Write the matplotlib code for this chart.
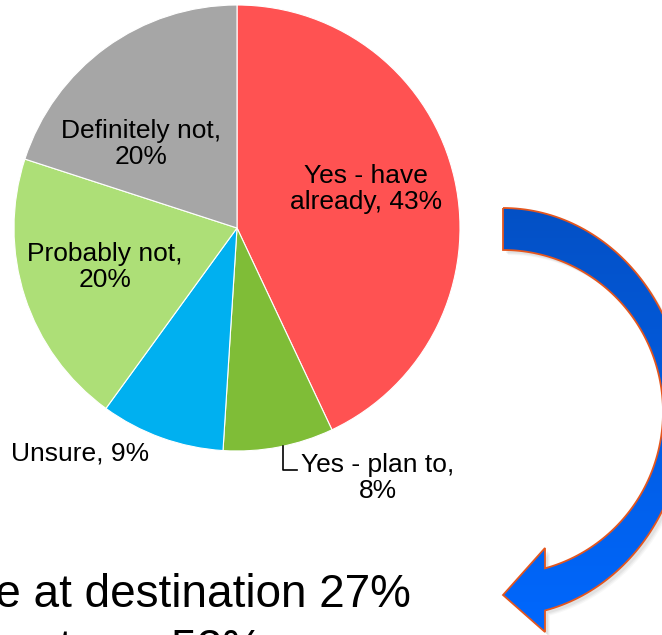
import numpy as np
import matplotlib
matplotlib.use('Agg')
import matplotlib.pyplot as plt
from matplotlib.patches import Polygon
from matplotlib.colors import LinearSegmentedColormap

# pie data
categories = ['Yes - have\nalready, 43%', 'Yes - plan to,\n8%', 'Unsure, 9%',
              'Probably not,\n20%', 'Definitely not,\n20%']
values = [43, 8, 9, 20, 20]
colors = ['#FF5252', '#7FBD37', '#00B0F0', '#ADDF77', '#A6A6A6']

# text below the arrow (only partly on the canvas)
bottom_lines = ['Purchase at destination 27%', 'Purchase at sea 52%']

W, H = 662, 635
CX, CY, R = 237, 228, 223   # pie centre / radius in pixels


def P(px, py):
    # pixel position -> data coords of the pie axes
    return (px - CX) / R, (CY - py) / R


fig = plt.figure(figsize=(W / 100, H / 100), dpi=100)
ax = fig.add_axes([0, 0, 1, 1])

ax.pie(values, colors=colors, startangle=90, counterclock=False, radius=1,
       wedgeprops=dict(edgecolor='white', linewidth=0.8))
ax.set_aspect('auto')
ax.set_xlim(-CX / R, (W - CX) / R)
ax.set_ylim(-(H - CY) / R, CY / R)
ax.axis('off')

lab_font = ['Liberation Sans', 'DejaVu Sans']
# label centres in pixels
lab_pos = [(366, 189), (378, 478), (80, 453), (105, 267), (141, 144)]
for txt, (px, py) in zip(categories, lab_pos):
    x, y = P(px, py)
    ax.text(x, y, txt, ha='center', va='center', fontsize=19,
            family=lab_font, linespacing=1.1, color='black')

# leader line for the small slice
lx = (283 - CX) / R
ly0 = -np.sqrt(1 - lx ** 2)
_, ly1 = P(283, 470)
lx2, _ = P(297, 470)
ax.plot([lx, lx, lx2], [ly0, ly1, ly1], color='black', lw=1.2)

# curved arrow (elliptical band + head), built in pixels
acx, acy = 503, 412
a_in, b_in = 160, 162
a_out, b_out = 182, 204
x_end = 545


def arc(a, b, n=120):
    t_end = np.pi - np.arcsin((x_end - acx) / a)
    t = np.linspace(0, t_end, n)
    return acx + a * np.sin(t), acy - b * np.cos(t)


ox, oy = arc(a_out, b_out)
ix, iy = arc(a_in, b_in)
head_x = [x_end, 503, x_end]
head_y = [632, 595, 548]
px_all = np.concatenate([ox, head_x, ix[::-1]])
py_all = np.concatenate([oy, head_y, iy[::-1]])
pts = np.array([P(x, y) for x, y in zip(px_all, py_all)])

# soft shadow
for k, al in [(5, 0.06), (4, 0.08), (3, 0.10)]:
    sh = np.array([P(x + k, y + k) for x, y in zip(px_all, py_all)])
    ax.add_patch(Polygon(sh, closed=True, facecolor='#808080', edgecolor='none',
                         alpha=al, zorder=3))

arrow = Polygon(pts, closed=True, facecolor='none', edgecolor='#E4561E',
                linewidth=1.3, zorder=5)
ax.add_patch(arrow)
cmap = LinearSegmentedColormap.from_list('arr', ['#0450C4', '#0068FF'])
grad = np.linspace(0, 1, 256).reshape(-1, 1)
x0, y0 = P(495, 200)
x1, y1 = P(665, 640)
img = ax.imshow(grad, cmap=cmap, aspect='auto', extent=(x0, x1, y1, y0),
                origin='upper', zorder=4)
clip = Polygon(pts, closed=True, transform=ax.transData)
img.set_clip_path(clip)

# bottom text, left-aligned bullets that run off the left/bottom edge
big_font = ['Liberation Sans', 'DejaVu Sans']
for line, py in zip(bottom_lines, [607, 662]):
    x, y = P(-173, py)
    ax.text(x, y, line, ha='left', va='baseline', fontsize=33,
            family=big_font, color='black', zorder=6)

fig.savefig('out.png', dpi=100)
